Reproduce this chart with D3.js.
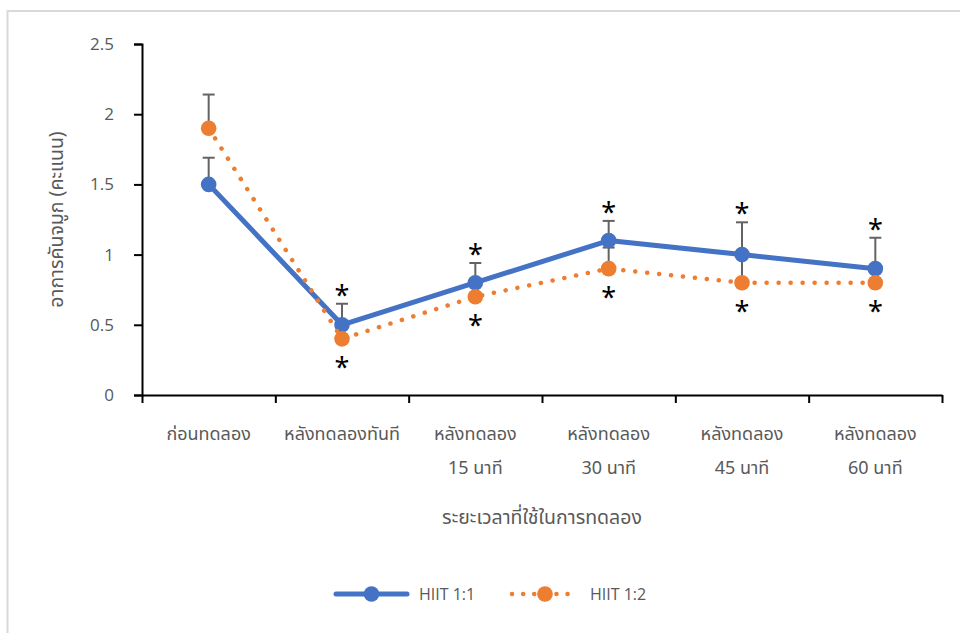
<!DOCTYPE html>
<html>
<head>
<meta charset="utf-8">
<script src="https://cdn.jsdelivr.net/npm/d3@7"></script>
<style>
  html, body { margin: 0; padding: 0; background: #fff; }
  svg { display: block; }
  text { font-family: "Leelawadee UI", "Noto Sans Thai", "Noto Sans", "DejaVu Sans", sans-serif; }
</style>
</head>
<body>
<svg id="chart" width="960" height="633"></svg>
<script>
// Time points of the trial (two-line labels)
const categories = ["ก่อนทดลอง", "หลังทดลองทันที", "หลังทดลอง\n15 นาที", "หลังทดลอง\n30 นาที", "หลังทดลอง\n45 นาที", "หลังทดลอง\n60 นาที"];
// Mean nasal-itch scores
const hiit11 = [1.5, 0.5, 0.8, 1.1, 1.0, 0.9];
const hiit12 = [1.9, 0.4, 0.7, 0.9, 0.8, 0.8];
// Upper error bars (SD)
const hiit11Err = [0.19, 0.15, 0.14, 0.14, 0.23, 0.22];
const hiit12Err = [0.24, 0.1, 0.1, 0.15, 0.2, 0.1];
// Significance markers (1 = marked)
const hiit11Sig = [0, 1, 1, 1, 1, 1];
const hiit12Sig = [0, 1, 1, 1, 1, 1];
const yTicks = [0, 0.5, 1, 1.5, 2, 2.5];
const seriesNames = ["HIIT 1:1", "HIIT 1:2"];

const svg = d3.select("#chart");
const blue = "#4472C4", orange = "#ED7D31", grey = "#595959", errGrey = "#636363";

// outer chart frame
svg.append("path")
  .attr("d", "M7.5,633 V11 H960")
  .attr("fill", "none").attr("stroke", "#d9d9d9").attr("stroke-width", 2);

const plotL = 142, plotR = 942, plotT = 44, plotB = 395;

const x = d3.scaleBand().domain(d3.range(categories.length)).range([plotL, plotR]).paddingInner(0).paddingOuter(0);
const y = d3.scaleLinear().domain([0, 2.5]).range([plotB, plotT]);
const cx = i => x(i) + x.bandwidth() / 2;

// y axis
const yAxis = svg.append("g").attr("transform", `translate(${plotL},0)`)
  .call(d3.axisLeft(y).tickValues(yTicks).tickFormat(d => d3.format("")(d)).tickSizeOuter(0).tickSize(8).tickPadding(20));
yAxis.select(".domain").attr("stroke", "#000").attr("stroke-width", 2);
yAxis.selectAll(".tick line").attr("stroke", "#000").attr("stroke-width", 2);
yAxis.selectAll(".tick text").attr("fill", grey).style("font-size", "17px").style("font-family", "'Open Sans', sans-serif");

// x axis with ticks on category boundaries
const xb = d3.scaleLinear().domain([0, categories.length]).range([plotL, plotR]);
const xAxis = svg.append("g").attr("transform", `translate(0,${plotB})`)
  .call(d3.axisBottom(xb).tickValues(d3.range(categories.length + 1)).tickFormat("").tickSize(8).tickSizeOuter(0));
xAxis.select(".domain").attr("stroke", "#000").attr("stroke-width", 2);
xAxis.selectAll(".tick line").attr("stroke", "#000").attr("stroke-width", 2);

// category labels
const lab = svg.append("g").selectAll("text").data(categories).join("text")
  .attr("x", (d, i) => cx(i)).attr("y", 440)
  .attr("text-anchor", "middle").attr("fill", grey).style("font-size", "18px");
lab.each(function(d) {
  const lines = d.split("\n");
  d3.select(this).selectAll("tspan").data(lines).join("tspan")
    .attr("x", d3.select(this).attr("x")).attr("dy", (l, k) => k === 0 ? 0 : 34).text(l => l);
});

// axis titles
svg.append("text").attr("x", (plotL + plotR) / 2).attr("y", 524).attr("text-anchor", "middle")
  .attr("fill", grey).style("font-size", "19.5px").text("ระยะเวลาที่ใช้ในการทดลอง");
svg.append("text").attr("transform", `translate(63,${(plotT + plotB) / 2}) rotate(-90)`)
  .attr("text-anchor", "middle").attr("fill", grey).style("font-size", "19.5px").text("อาการคันจมูก (คะแนน)");

const line = d3.line().x((d, i) => cx(i)).y(d => y(d));

function errorBars(vals, errs) {
  const g = svg.append("g").attr("stroke", errGrey).attr("stroke-width", 2);
  vals.forEach((v, i) => {
    const y0 = y(v), y1 = y(v + errs[i]);
    g.append("line").attr("x1", cx(i)).attr("x2", cx(i)).attr("y1", y0).attr("y2", y1);
    g.append("line").attr("x1", cx(i) - 6).attr("x2", cx(i) + 6).attr("y1", y1).attr("y2", y1);
  });
}

errorBars(hiit11, hiit11Err);
errorBars(hiit12, hiit12Err);

// HIIT 1:1 series
svg.append("path").datum(hiit11).attr("d", line).attr("fill", "none")
  .attr("stroke", blue).attr("stroke-width", 5).attr("stroke-linejoin", "round");
svg.append("g").selectAll("circle").data(hiit11).join("circle")
  .attr("cx", (d, i) => cx(i)).attr("cy", d => y(d)).attr("r", 7.8).attr("fill", blue);

// HIIT 1:2 series
svg.append("path").datum(hiit12).attr("d", line).attr("fill", "none")
  .attr("stroke", orange).attr("stroke-width", 4.5).attr("stroke-linecap", "round")
  .attr("stroke-dasharray", "0.1 11.9");
svg.append("g").selectAll("circle").data(hiit12).join("circle")
  .attr("cx", (d, i) => cx(i)).attr("cy", d => y(d)).attr("r", 7.8).attr("fill", orange);

// significance asterisks (baseline placed so the glyph centre sits at the target)
const star = svg.append("g").attr("fill", "#000").attr("text-anchor", "middle")
  .style("font-size", "27px").style("font-family", "'DejaVu Sans', sans-serif");
hiit11.forEach((v, i) => {
  if (hiit11Sig[i]) star.append("text").attr("x", cx(i)).attr("y", y(v + hiit11Err[i]) + 1)
    .text("*");
});
hiit12.forEach((v, i) => {
  if (hiit12Sig[i]) star.append("text").attr("x", cx(i)).attr("y", y(v) + 38)
    .text("*");
});

// legend
const lg = svg.append("g");
const items = [
  { name: seriesNames[0], color: blue, x0: 336, x1: 407, dash: null, w: 5 },
  { name: seriesNames[1], color: orange, x0: 512, x1: 578, dash: "0.1 11", w: 4.5 }
];
items.forEach(it => {
  lg.append("line").attr("x1", it.x0).attr("x2", it.x1).attr("y1", 594).attr("y2", 594)
    .attr("stroke", it.color).attr("stroke-width", it.w).attr("stroke-linecap", "round")
    .attr("stroke-dasharray", it.dash);
  lg.append("circle").attr("cx", (it.x0 + it.x1) / 2).attr("cy", 594).attr("r", 7.8).attr("fill", it.color);
  lg.append("text").attr("x", it.x1 + 12).attr("y", 594).attr("dy", "0.35em").attr("fill", grey)
    .style("font-size", "16px").style("font-family", "'Open Sans', sans-serif").text(it.name);
});
</script>
</body>
</html>
